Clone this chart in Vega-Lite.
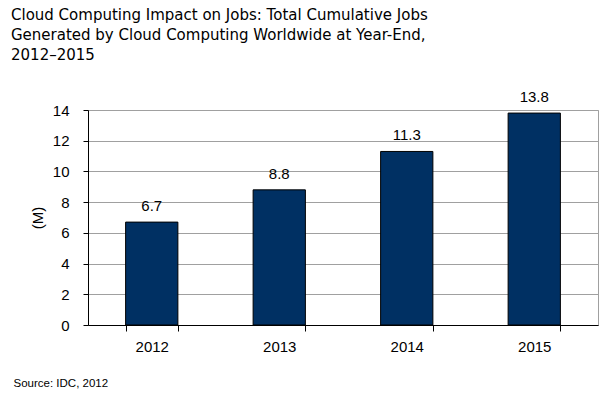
{
  "$schema": "https://vega.github.io/schema/vega-lite/v6.json",
  "autosize": "none",
  "width": 510,
  "height": 215,
  "padding": {"left": 88, "top": 110, "right": 15, "bottom": 69},
  "background": "white",
  "title": {
    "text": ["Cloud Computing Impact on Jobs: Total Cumulative Jobs", "Generated by Cloud Computing Worldwide at Year-End,", "2012–2015"],
    "anchor": "start",
    "frame": "group",
    "dx": -77,
    "dy": -23,
    "font": "DejaVu Sans",
    "fontSize": 15,
    "fontWeight": "normal",
    "color": "#000000",
    "lineHeight": 20,
    "limit": 1000
  },
  "config": {
    "view": {"stroke": "#a0a0a0", "strokeWidth": 1},
    "axis": {"labelFont": "Liberation Sans", "titleFont": "Liberation Sans", "labelColor": "#000", "titleColor": "#000"}
  },
  "data": {
    "values": [
      {"year": "2012", "jobs": 6.7},
      {"year": "2013", "jobs": 8.8},
      {"year": "2014", "jobs": 11.3},
      {"year": "2015", "jobs": 13.8}
    ]
  },
  "encoding": {
    "x": {
      "field": "year", "type": "nominal",
      "scale": {"paddingInner": 0.59, "paddingOuter": 0.295},
      "axis": {
        "labelAngle": 0, "labelFontSize": 15, "labelPadding": 8,
        "domainColor": "#000", "tickColor": "#000", "tickSize": 6, "tickBand": "extent",
        "title": "Source: IDC, 2012", "titleFontSize": 11.5, "titleFontWeight": "normal",
        "titleAnchor": "start", "titleAlign": "left", "titleBaseline": "alphabetic",
        "titleX": -75, "titleY": 61
      }
    },
    "y": {
      "field": "jobs", "type": "quantitative",
      "scale": {"domain": [0, 14], "nice": false},
      "axis": {
        "values": [0, 2, 4, 6, 8, 10, 12, 14],
        "labelFontSize": 15, "labelPadding": 14,
        "domainColor": "#000", "tickColor": "#000", "tickSize": 5,
        "gridColor": "#a0a0a0", "gridWidth": 1,
        "title": "(M)", "titleFontSize": 15, "titleFontWeight": "normal", "titlePadding": 7
      }
    }
  },
  "layer": [
    {"mark": {"type": "bar", "color": "#003063", "stroke": "#000", "strokeWidth": 1}},
    {
      "mark": {"type": "text", "baseline": "bottom", "dy": -8, "font": "Liberation Sans", "fontSize": 15, "color": "#000"},
      "encoding": {"text": {"field": "jobs", "type": "quantitative", "format": ".1f"}}
    }
  ]
}
